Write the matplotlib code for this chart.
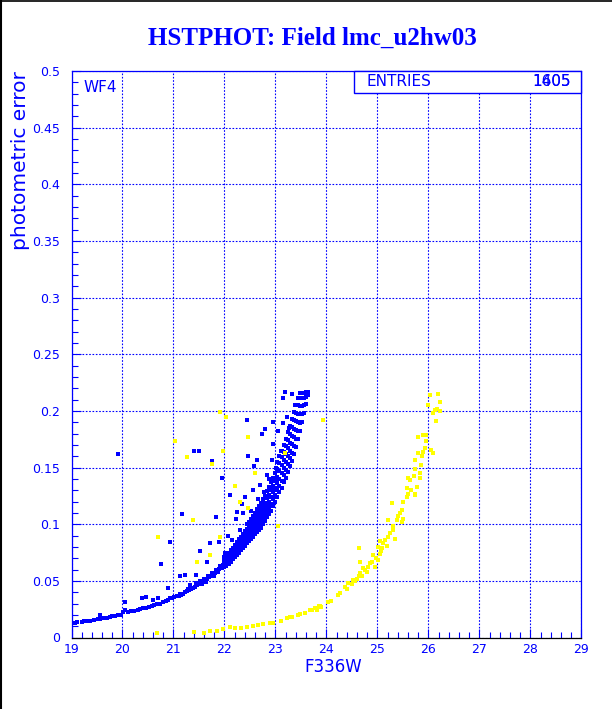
import numpy as np
import matplotlib
matplotlib.use("Agg")
import matplotlib.pyplot as plt
from matplotlib.patches import Rectangle
from matplotlib.lines import Line2D

# faint tail of the blue sequence (bright stars), x = F336W, y = error
blue_tail = [
    (19.02, 0.0128), (19.06, 0.0130), (19.10, 0.0133), (19.20, 0.0140), (19.24, 0.0142),
    (19.32, 0.0148), (19.36, 0.0150), (19.44, 0.0156), (19.52, 0.0162), (19.56, 0.0166),
    (19.64, 0.0172), (19.70, 0.0176), (19.76, 0.0180), (19.80, 0.0186), (19.86, 0.0190),
    (19.92, 0.0196), (19.98, 0.0200), (20.02, 0.0225), (20.04, 0.0240), (20.10, 0.0228),
    (20.16, 0.0232), (20.22, 0.0236), (20.30, 0.0246), (20.34, 0.0250), (20.40, 0.0258),
    (20.46, 0.0262), (20.52, 0.0270), (20.58, 0.0278), (20.62, 0.0284), (20.68, 0.0292),
    (20.74, 0.0300), (20.80, 0.0312), (20.86, 0.0322), (20.90, 0.0330), (20.94, 0.0345),
    (20.98, 0.0352), (21.02, 0.0360), (21.06, 0.0366), (21.10, 0.0370), (21.14, 0.0378),
    (21.18, 0.0388), (21.22, 0.0398), (21.26, 0.0410), (21.30, 0.0420), (21.34, 0.0432),
    (21.38, 0.0440), (21.42, 0.0450), (21.46, 0.0462), (21.50, 0.0472), (21.54, 0.0485),
    (21.58, 0.0495), (21.62, 0.0505), (21.66, 0.0518), (21.70, 0.0530), (21.74, 0.0545),
    (21.78, 0.0558), (21.82, 0.0572), (21.86, 0.0590), (21.90, 0.0605), (21.94, 0.0620),
    (21.98, 0.0640), (21.44, 0.0480), (21.52, 0.0498), (21.60, 0.0520), (21.68, 0.0540),
    (21.76, 0.0565), (21.84, 0.0600), (21.92, 0.0630), (21.12, 0.0385), (21.28, 0.0428),
    (21.80, 0.0545), (21.88, 0.0575), (21.96, 0.0610), (21.56, 0.0470), (21.64, 0.0490),
]

# dense part of the blue band: (magnitude, list of errors)
band_mag = [22.00, 22.04, 22.08, 22.12, 22.16, 22.20, 22.24, 22.28, 22.32, 22.36,
            22.40, 22.44, 22.48, 22.52, 22.56, 22.60, 22.64, 22.68, 22.72, 22.76,
            22.80, 22.84, 22.88, 22.92, 22.96, 23.00, 23.04, 23.08, 23.12, 23.16,
            23.20, 23.24, 23.28, 23.32, 23.36, 23.40, 23.44, 23.48, 23.52, 23.56,
            23.60, 23.64]
band_err = [
    [0.062, 0.065, 0.068, 0.071],
    [0.063, 0.066, 0.069, 0.072],
    [0.065, 0.068, 0.071, 0.075],
    [0.067, 0.070, 0.073, 0.077],
    [0.069, 0.072, 0.075, 0.079],
    [0.071, 0.074, 0.078, 0.082],
    [0.073, 0.076, 0.080, 0.084],
    [0.075, 0.079, 0.083, 0.087],
    [0.077, 0.081, 0.085, 0.089],
    [0.079, 0.083, 0.087, 0.091],
    [0.081, 0.085, 0.089, 0.094],
    [0.083, 0.087, 0.091, 0.096, 0.100],
    [0.085, 0.089, 0.094, 0.098, 0.102],
    [0.087, 0.091, 0.096, 0.100, 0.105],
    [0.089, 0.093, 0.098, 0.102, 0.107],
    [0.091, 0.095, 0.100, 0.105, 0.110],
    [0.093, 0.097, 0.102, 0.107, 0.113],
    [0.095, 0.100, 0.105, 0.110, 0.116],
    [0.097, 0.102, 0.107, 0.113, 0.119],
    [0.100, 0.105, 0.110, 0.116, 0.122],
    [0.103, 0.108, 0.113, 0.119, 0.125],
    [0.106, 0.111, 0.117, 0.123, 0.129],
    [0.109, 0.114, 0.120, 0.126, 0.133],
    [0.112, 0.118, 0.124, 0.130, 0.137],
    [0.116, 0.122, 0.128, 0.134, 0.141],
    [0.120, 0.126, 0.132, 0.138, 0.145],
    [0.124, 0.130, 0.136, 0.142, 0.149, 0.155],
    [0.128, 0.134, 0.140, 0.147, 0.154, 0.160],
    [0.132, 0.138, 0.145, 0.152, 0.159, 0.165],
    [0.137, 0.143, 0.150, 0.157, 0.164, 0.170],
    [0.141, 0.148, 0.155, 0.162, 0.169, 0.175],
    [0.146, 0.153, 0.160, 0.167, 0.174, 0.181],
    [0.151, 0.158, 0.165, 0.172, 0.180, 0.187],
    [0.156, 0.163, 0.171, 0.178, 0.186, 0.193],
    [0.162, 0.169, 0.177, 0.184, 0.192, 0.199],
    [0.168, 0.175, 0.183, 0.191, 0.198, 0.205],
    [0.175, 0.182, 0.190, 0.197, 0.205, 0.211],
    [0.182, 0.189, 0.197, 0.204, 0.211, 0.216],
    [0.190, 0.197, 0.204, 0.211, 0.216],
    [0.198, 0.205, 0.211, 0.216],
    [0.206, 0.212, 0.217],
    [0.214, 0.217],
]

blue_scatter = [
    (19.91, 0.162), (20.93, 0.084), (20.76, 0.065), (21.16, 0.109), (21.40, 0.165),
    (21.51, 0.165), (21.75, 0.156), (21.95, 0.141), (22.11, 0.126), (21.83, 0.106),
    (22.45, 0.192), (22.47, 0.160), (22.63, 0.157), (22.58, 0.151), (22.80, 0.184),
    (22.73, 0.180), (22.96, 0.190), (23.19, 0.217), (23.32, 0.215), (23.15, 0.211),
    (21.72, 0.083), (21.52, 0.076), (21.65, 0.067), (21.90, 0.084), (22.07, 0.090),
    (22.22, 0.105), (22.24, 0.111), (22.37, 0.110), (22.34, 0.118), (22.57, 0.130),
    (22.40, 0.124), (22.70, 0.135), (22.83, 0.143), (22.93, 0.157), (22.96, 0.171),
    (23.06, 0.182), (23.14, 0.189), (23.22, 0.195), (21.13, 0.054), (21.23, 0.055),
    (20.47, 0.0355), (20.38, 0.0346), (20.60, 0.033), (20.04, 0.0313), (20.90, 0.044),
    (19.56, 0.0196), (20.70, 0.035), (21.32, 0.046), (21.45, 0.055), (22.02, 0.075),
    (22.15, 0.086), (22.30, 0.095), (22.52, 0.112), (22.66, 0.122), (22.78, 0.128),
    (22.88, 0.140), (23.02, 0.150), (23.10, 0.165), (23.26, 0.185), (23.38, 0.205),
]

yellow_points = [
    (20.67, 0.004), (21.40, 0.005), (21.59, 0.0043), (21.72, 0.0055), (21.85, 0.006),
    (21.98, 0.0072), (22.21, 0.008), (22.44, 0.0095), (22.57, 0.010), (22.76, 0.0117),
    (22.89, 0.0125), (22.96, 0.013), (23.22, 0.017), (23.29, 0.018), (23.48, 0.0205),
    (23.68, 0.024), (23.78, 0.026), (23.86, 0.028), (23.32, 0.018), (23.45, 0.020),
    (23.58, 0.022), (23.71, 0.024), (23.81, 0.024), (23.87, 0.028), (23.90, 0.027),
    (24.04, 0.031), (24.10, 0.032), (24.23, 0.0375), (24.27, 0.039), (24.40, 0.043),
    (24.43, 0.048), (24.50, 0.047), (24.53, 0.051), (24.60, 0.052), (24.63, 0.054),
    (24.66, 0.057), (24.70, 0.054), (24.63, 0.079), (24.66, 0.067), (24.72, 0.061),
    (24.76, 0.060), (24.82, 0.0625), (24.86, 0.0655), (24.89, 0.067), (24.95, 0.0625),
    (24.92, 0.073), (25.02, 0.068), (25.05, 0.074), (25.02, 0.080), (25.08, 0.076),
    (25.05, 0.085), (25.12, 0.083), (25.15, 0.086), (25.18, 0.081), (25.21, 0.089),
    (25.25, 0.092), (25.34, 0.087), (25.31, 0.098), (25.38, 0.104), (25.41, 0.107),
    (25.48, 0.102), (25.51, 0.105), (25.21, 0.104), (25.28, 0.119), (25.48, 0.1125),
    (25.51, 0.120), (25.58, 0.124), (25.61, 0.127), (25.58, 0.132), (25.64, 0.139),
    (25.61, 0.1405), (25.71, 0.1425), (25.74, 0.127), (25.74, 0.126), (25.77, 0.133),
    (25.74, 0.149), (25.84, 0.1455), (25.84, 0.1405), (25.87, 0.160), (25.90, 0.164),
    (25.93, 0.167), (25.80, 0.1625), (25.74, 0.157), (25.80, 0.177), (25.90, 0.179),
    (25.96, 0.179), (25.96, 0.173), (26.06, 0.1655), (26.10, 0.1625), (26.00, 0.205),
    (26.03, 0.214), (26.13, 0.201), (26.10, 0.198), (26.16, 0.202), (26.23, 0.208),
    (26.19, 0.215), (26.23, 0.200), (26.15, 0.191), (23.94, 0.192), (24.36, 0.045),
    (24.56, 0.050), (24.80, 0.058), (24.98, 0.070), (25.10, 0.079), (25.30, 0.095),
    (25.44, 0.110), (25.66, 0.130), (25.86, 0.152), (21.91, 0.199), (22.04, 0.195),
    (21.03, 0.173), (21.26, 0.159), (21.98, 0.165), (21.75, 0.153), (22.21, 0.134),
    (22.47, 0.177), (22.30, 0.120), (21.39, 0.104), (20.70, 0.089), (21.91, 0.089),
    (21.72, 0.073), (21.46, 0.067), (22.47, 0.114), (22.60, 0.145), (23.19, 0.163),
    (23.06, 0.098), (22.10, 0.009), (22.33, 0.0085), (22.65, 0.011), (23.10, 0.0145),
]

x_ticks = [19, 20, 21, 22, 23, 24, 25, 26, 27, 28, 29]
y_ticks = [0, 0.05, 0.1, 0.15, 0.2, 0.25, 0.3, 0.35, 0.4, 0.45, 0.5]
y_tick_labels = ["0", "0.05", "0.1", "0.15", "0.2", "0.25", "0.3", "0.35", "0.4", "0.45", "0.5"]

BLUE = "#0000ff"
W, H = 612, 709

fig = plt.figure(figsize=(W / 100, H / 100), dpi=100)
ax = fig.add_axes([71.5 / W, 1 - 637.5 / H, 509.8 / W, 566.5 / H])

band_x = []
band_y = []
for m, errs in zip(band_mag, band_err):
    for e in errs:
        band_x.append(m)
        band_y.append(e)

bt = np.array(blue_tail)
bs = np.array(blue_scatter)
yp = np.array(yellow_points)

mk = dict(marker="s", linestyle="none", markersize=2.4, markeredgewidth=0)
ax.plot(bt[:, 0], bt[:, 1], color=BLUE, **mk)
ax.plot(band_x, band_y, color=BLUE, **mk)
ax.plot(bs[:, 0], bs[:, 1], color=BLUE, **mk)
ax.plot(yp[:, 0], yp[:, 1], color="#ffff00", **mk)

ax.set_xlim(19, 29)
ax.set_ylim(0, 0.5)
ax.set_xticks(x_ticks)
ax.set_xticklabels([str(t) for t in x_ticks])
ax.set_yticks(y_ticks)
ax.set_yticklabels(y_tick_labels)
ax.set_xticks(np.arange(19, 29.01, 0.2), minor=True)
ax.set_yticks(np.arange(0, 0.5001, 0.01), minor=True)
ax.grid(True, which="major", color=BLUE, linestyle=(0, (1.5, 1.5)), linewidth=0.8)
ax.tick_params(which="both", direction="in", colors=BLUE, labelcolor=BLUE)
ax.tick_params(which="major", length=6.5, width=0.8, labelsize=9)
ax.tick_params(which="minor", length=4, width=0.8)
ax.tick_params(axis="x", pad=4)
ax.tick_params(axis="y", pad=8)
for s in ["left", "top", "right"]:
    ax.spines[s].set_color(BLUE)
    ax.spines[s].set_linewidth(0.9)
ax.spines["bottom"].set_color("black")
ax.spines["bottom"].set_linewidth(0.9)

# labels
fig.text(333 / W, 1 - 667 / H, "F336W", color=BLUE, fontsize=12, ha="center", va="center")
fig.text(21 / W, 1 - 71 / H, "photometric error", color=BLUE, fontsize=14.5,
         rotation=90, ha="center", va="top")
fig.text(312 / W, 1 - 38 / H, "HSTPHOT: Field lmc_u2hw03", color=BLUE, fontsize=18,
         fontfamily="Liberation Serif", fontweight="bold", ha="center", va="center")
fig.text(83 / W, 1 - 88 / H, "WF4", color=BLUE, fontsize=11, ha="left", va="center")

# stats box
fig.patches.append(Rectangle((354 / W, 1 - 93 / H), (581 - 354) / W, 22 / H,
                             transform=fig.transFigure, facecolor="white",
                             edgecolor=BLUE, linewidth=1, zorder=5))
fig.text(367 / W, 1 - 82 / H, "ENTRIES", color=BLUE, fontsize=11, ha="left", va="center", zorder=6)
fig.text(571 / W, 1 - 82 / H, "1605", color=BLUE, fontsize=11, ha="right", va="center", zorder=6)
fig.text(571 / W, 1 - 82 / H, "1405", color=BLUE, fontsize=11, ha="right", va="center", zorder=6)

# page border (top and left)
fig.lines.append(Line2D([0, 1], [1 - 0.5 / H, 1 - 0.5 / H], transform=fig.transFigure, color="black", linewidth=1.2))
fig.lines.append(Line2D([1 / W, 1 / W], [0, 1], transform=fig.transFigure, color="black", linewidth=1.5))

fig.savefig("out.png", dpi=100)
